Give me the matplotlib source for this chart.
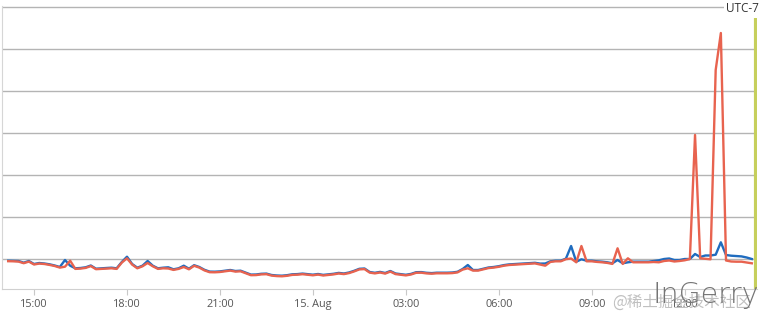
import numpy as np
import pandas as pd
from matplotlib import pyplot as plt

# 10-minute samples, 14:10 on 14 Aug to 14:10 on 15 Aug
times = pd.date_range('2023-08-14 14:10', periods=145, freq='10min')

blue = [28.3, 28.2, 28.0, 26.3, 28.0, 25.0, 26.0, 25.5, 24.7, 23.5,
        22.0, 29.0, 23.3, 20.7, 21.0, 21.7, 23.5, 20.3, 20.7, 21.0,
        21.3, 20.7, 27.0, 32.3, 25.0, 21.3, 23.3, 28.0, 23.3, 20.7,
        21.3, 21.7, 19.7, 20.7, 23.3, 20.3, 23.8, 22.0, 19.2, 17.4,
        17.3, 17.6, 18.3, 19.0, 18.0, 18.3, 16.4, 14.4, 14.5, 15.2,
        15.4, 14.0, 13.5, 13.3, 13.8, 14.7, 14.9, 15.4, 14.8, 14.3,
        15.0, 14.1, 14.7, 15.2, 16.1, 15.5, 16.5, 18.2, 20.2, 20.5,
        17.0, 16.2, 17.1, 16.0, 18.0, 15.5, 14.9, 14.2, 15.1, 16.8,
        16.9, 16.2, 15.9, 16.3, 16.3, 16.3, 16.5, 17.2, 20.0, 24.0,
        19.0, 19.0, 20.3, 21.5, 22.0, 22.8, 23.9, 24.6, 24.9, 25.2,
        25.4, 25.7, 26.2, 25.4, 25.5, 27.7, 28.3, 28.3, 30.4, 43.0,
        27.3, 29.7, 28.3, 28.3, 27.7, 27.3, 26.7, 25.7, 29.0, 25.7,
        26.7, 27.3, 27.3, 27.3, 27.3, 28.0, 28.7, 30.0, 30.5, 29.0,
        29.0, 30.0, 30.0, 35.0, 32.0, 33.5, 33.5, 34.3, 46.7, 34.0,
        33.3, 33.0, 32.6, 31.5, 30.0]

red = [27.8, 27.7, 27.4, 25.8, 27.4, 24.5, 25.4, 25.0, 24.1, 23.0,
       21.4, 22.3, 28.3, 20.1, 20.4, 21.1, 22.9, 19.8, 20.1, 20.4,
       20.7, 20.1, 26.4, 30.7, 24.4, 20.7, 22.7, 26.0, 22.7, 20.1,
       20.7, 20.5, 19.1, 20.1, 22.0, 19.7, 23.2, 21.4, 18.6, 16.8,
       16.7, 17.0, 17.7, 18.4, 17.4, 17.7, 15.8, 13.8, 13.9, 14.6,
       14.8, 13.4, 12.9, 12.7, 13.2, 14.1, 14.3, 14.8, 14.2, 13.7,
       14.4, 13.5, 14.1, 14.6, 15.5, 14.9, 15.9, 17.6, 19.6, 19.9,
       16.4, 15.6, 16.5, 15.4, 17.4, 14.9, 14.3, 13.6, 14.5, 16.2,
       16.3, 15.6, 15.3, 15.7, 15.7, 15.7, 15.9, 16.6, 19.4, 20.7,
       18.4, 18.4, 19.7, 20.9, 21.4, 22.2, 23.3, 24.0, 24.3, 24.6,
       24.8, 25.1, 25.6, 24.5, 23.3, 27.1, 27.7, 27.7, 29.8, 30.5,
       26.7, 43.0, 27.7, 27.7, 27.1, 26.7, 26.1, 25.1, 40.7, 25.1,
       30.7, 26.7, 26.7, 26.7, 26.7, 27.0, 26.7, 28.0, 28.5, 27.5,
       28.0, 28.7, 30.0, 154.0, 30.7, 30.2, 29.7, 219.0, 256.0, 28.5,
       27.5, 27.3, 27.3, 26.5, 25.7]

tick_times = pd.date_range('2023-08-14 15:00', periods=8, freq='3h')
tick_labels = ['15:00', '18:00', '21:00', '15. Aug', '03:00', '06:00', '09:00', '12:00']

plt.rcParams['font.family'] = ['Open Sans', 'Noto Sans CJK SC', 'DejaVu Sans']

fig = plt.figure(figsize=(7.6, 3.18), dpi=100)
ax = fig.add_axes([2 / 760, 29 / 318, 755 / 760, 283 / 318])

ax.plot(times, blue, color='#1f6cbf', linewidth=1.7)
ax.plot(times, red, color='#e8634f', linewidth=1.7)

ax.set_xlim(pd.Timestamp('2023-08-14 13:58'), pd.Timestamp('2023-08-15 14:20'))
ax.set_ylim(0, 283)
ax.set_yticks(np.arange(30, 284, 42))
ax.yaxis.grid(True, color='#b4b4b4', linewidth=1)
ax.tick_params(axis='y', left=False, labelleft=False)

ax.set_xticks(tick_times)
ax.set_xticklabels(tick_labels)
ax.tick_params(axis='x', length=4, color='#c8c8c8', labelsize=7.8,
               labelcolor='#555555', pad=3)

for side in ['top', 'right']:
    ax.spines[side].set_visible(False)
ax.spines['left'].set_color('#d6d6d6')
ax.spines['bottom'].set_color('#d0d0d0')

# timezone label, covering the end of the top grid line
fig.text(759 / 760, 1 - 9 / 318, 'UTC-7', ha='right', va='center', fontsize=8.5,
         color='#333333', bbox=dict(facecolor='white', edgecolor='none', pad=1.5), zorder=5)

# green edge bar on the right
ax.axvline(pd.Timestamp('2023-08-15 14:18'), ymin=0.007, ymax=0.96, color='#c6cf5c', linewidth=3)

# watermark
fig.text(612 / 760, 1 - 302 / 318, '@稀土掘金技术社区', fontsize=11.2, color='#c0c0c0',
         ha='left', va='center', family=['Noto Sans CJK SC', 'DejaVu Sans'])
fig.text(653 / 760, 1 - 303 / 318, 'InGerry', fontsize=20.5, color='#757575',
         ha='left', va='baseline', family='DejaVu Sans', fontweight='light')

fig.savefig('out.png', dpi=100)
